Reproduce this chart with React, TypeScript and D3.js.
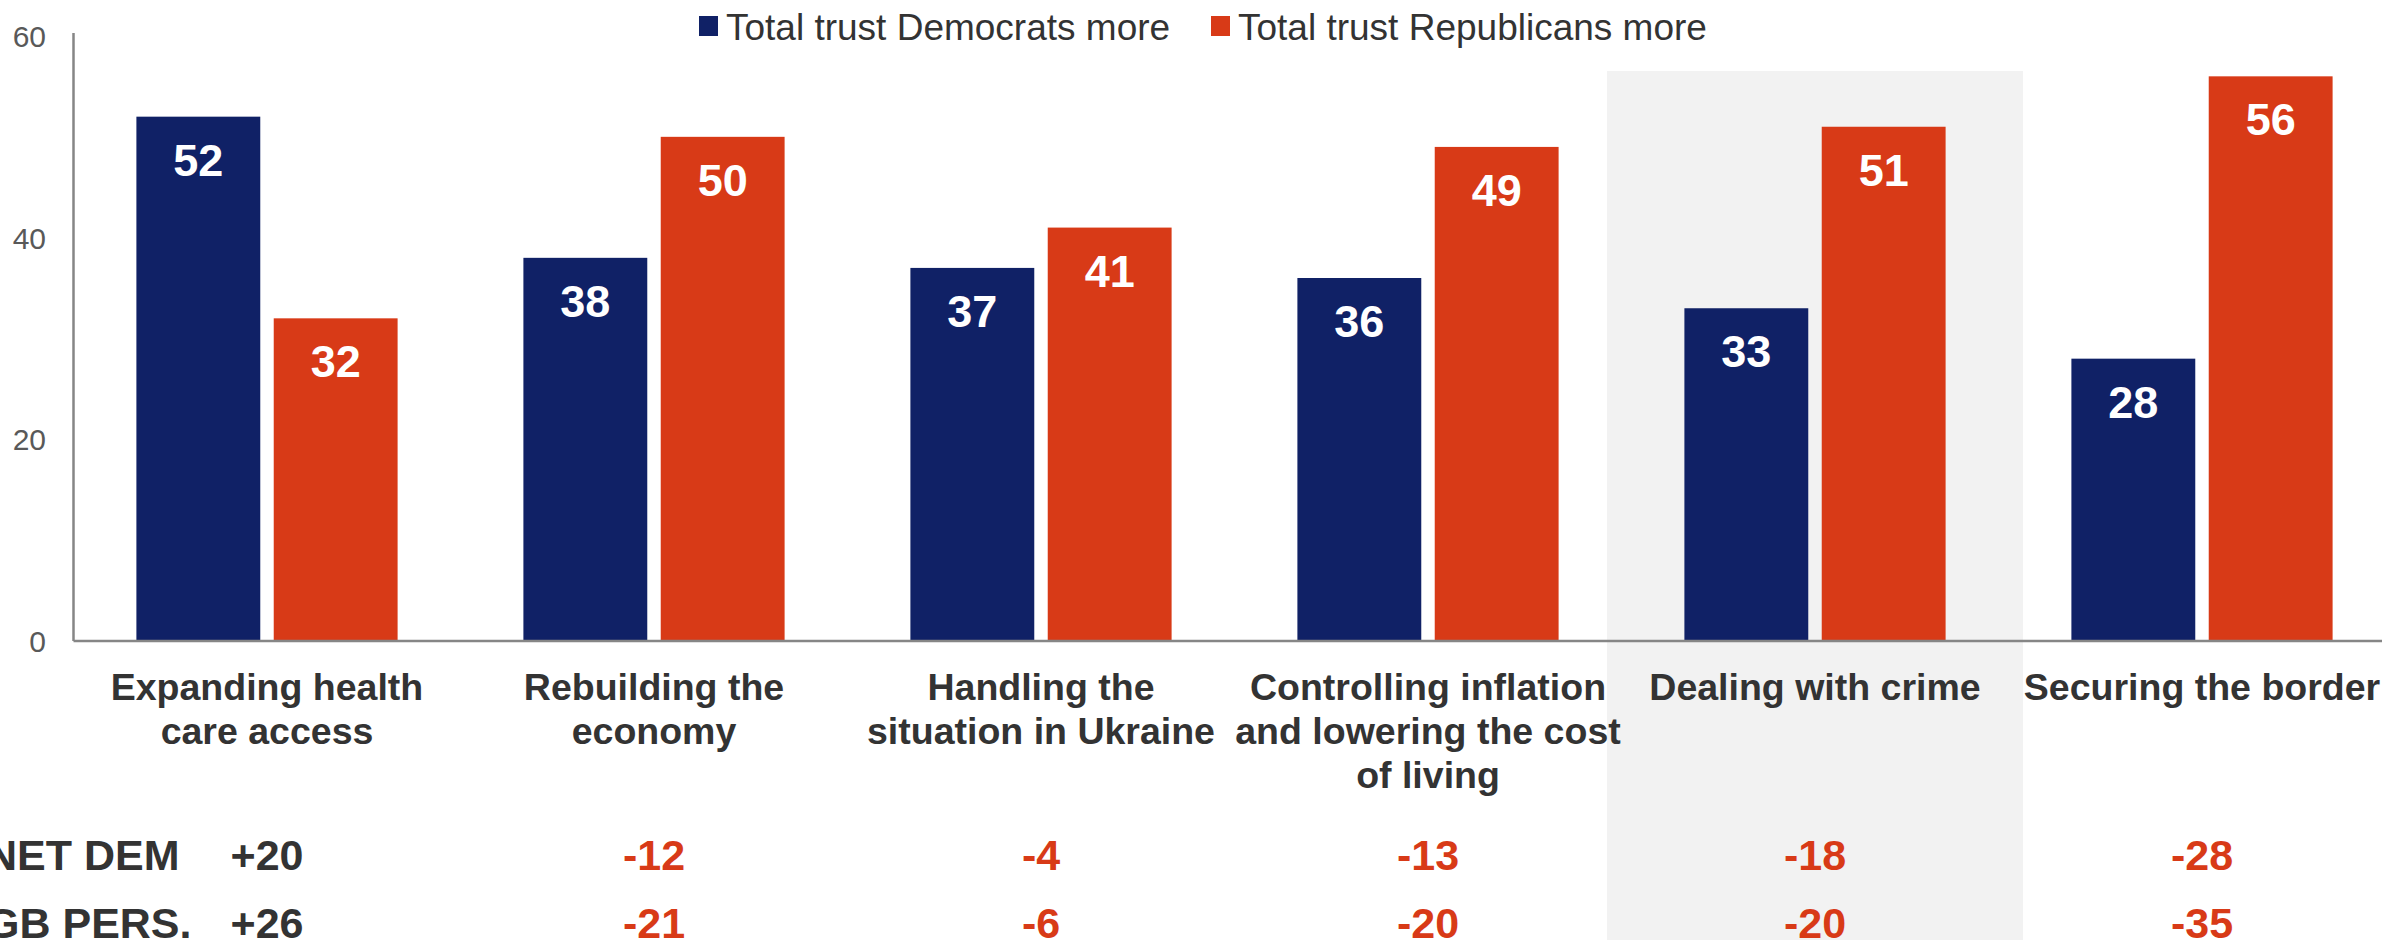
import React from "react";
import * as d3 from "d3";

const categories = [
  "Expanding health care access",
  "Rebuilding the economy",
  "Handling the situation in Ukraine",
  "Controlling inflation and lowering the cost of living",
  "Dealing with crime",
  "Securing the border",
];
const categoryLines = [
  ["Expanding health", "care access"],
  ["Rebuilding the", "economy"],
  ["Handling the", "situation in Ukraine"],
  ["Controlling inflation", "and lowering the cost", "of living"],
  ["Dealing with crime"],
  ["Securing the border"],
];
const seriesNames = ["Total trust Democrats more", "Total trust Republicans more"];
const demValues = [52, 38, 37, 36, 33, 28];
const repValues = [32, 50, 41, 49, 51, 56];
const netDem = [20, -12, -4, -13, -18, -28];
const gbPers = [26, -21, -6, -20, -20, -35];
const rowLabels = ["NET DEM", "GB PERS."];
const yTicks = [0, 20, 40, 60];
const highlighted = "Dealing with crime";

const W = 2382;
const H = 940;
const DEM = "#102166";
const REP = "#D83A17";
const DARK = "#333333";
const FONT = "'Liberation Sans', Arial, Helvetica, sans-serif";

export default function App() {
  const left = 73.5;
  const step = 387;
  const x0 = d3
    .scaleBand<string>()
    .domain(categories)
    .range([left, left + step * categories.length])
    .paddingInner(0)
    .paddingOuter(0);
  const x1 = d3
    .scaleBand<string>()
    .domain(seriesNames)
    .range([0, x0.bandwidth()])
    .paddingInner(0.098)
    .paddingOuter(0.458);
  const y = d3.scaleLinear().domain([0, 60]).range([641, 36]);

  const series = [
    { name: seriesNames[0], values: demValues, color: DEM },
    { name: seriesNames[1], values: repValues, color: REP },
  ];
  const rows = [netDem, gbPers];
  const rowBaselines = [870, 938];
  const fmt = (v: number) => (v > 0 ? `+${v}` : `${v}`);
  const hx = x0(highlighted)!;

  const legendItems = [
    { name: seriesNames[0], color: DEM, sx: 699, tx: 726 },
    { name: seriesNames[1], color: REP, sx: 1211, tx: 1238 },
  ];

  return (
    <svg
      width={W}
      height={H}
      style={{ position: "absolute", left: 0, top: 0, display: "block", background: "#fff" }}
      fontFamily={FONT}
    >
      {/* highlight band */}
      <rect x={hx - 14.5} y={71} width={x0.bandwidth() + 29} height={H - 71} fill="#F2F2F2" />

      {/* legend */}
      {legendItems.map((l) => (
        <g key={l.name}>
          <rect x={l.sx} y={16} width={19} height={20} fill={l.color} />
          <text x={l.tx} y={40} fontSize={37} fill={DARK}>
            {l.name}
          </text>
        </g>
      ))}

      {/* y tick labels */}
      {yTicks.map((t) => (
        <text key={t} x={46} y={y(t) + 11} fontSize={30} fill="#595959" textAnchor="end">
          {t}
        </text>
      ))}

      {/* bars */}
      {series.map((s) =>
        categories.map((c, i) => {
          const bx = x0(c)! + x1(s.name)!;
          const by = y(s.values[i]);
          return (
            <g key={s.name + c}>
              <rect x={bx} y={by} width={x1.bandwidth()} height={y(0) - by} fill={s.color} />
              <text
                x={bx + x1.bandwidth() / 2}
                y={by + 59}
                fontSize={45}
                fontWeight="bold"
                fill="#fff"
                textAnchor="middle"
              >
                {s.values[i]}
              </text>
            </g>
          );
        })
      )}

      {/* axes */}
      <line x1={left} x2={left} y1={y(60) - 3} y2={y(0)} stroke="#868686" strokeWidth={2.5} />
      <line x1={left} x2={W} y1={y(0)} y2={y(0)} stroke="#868686" strokeWidth={2.5} />

      {/* category labels */}
      {categories.map((c, i) => (
        <text
          key={c}
          x={x0(c)! + x0.bandwidth() / 2}
          fontSize={37.5}
          fontWeight="bold"
          fill={DARK}
          textAnchor="middle"
        >
          {categoryLines[i].map((ln, j) => (
            <tspan key={j} x={x0(c)! + x0.bandwidth() / 2} y={700 + j * 44}>
              {ln}
            </tspan>
          ))}
        </text>
      ))}

      {/* net rows */}
      {rows.map((r, ri) => (
        <g key={rowLabels[ri]}>
          <text x={-14} y={rowBaselines[ri]} fontSize={43} fontWeight="bold" fill={DARK}>
            {rowLabels[ri]}
          </text>
          {categories.map((c, i) => (
            <text
              key={c}
              x={x0(c)! + x0.bandwidth() / 2}
              y={rowBaselines[ri]}
              fontSize={43}
              fontWeight="bold"
              fill={r[i] > 0 ? DARK : REP}
              textAnchor="middle"
            >
              {fmt(r[i])}
            </text>
          ))}
        </g>
      ))}
    </svg>
  );
}
